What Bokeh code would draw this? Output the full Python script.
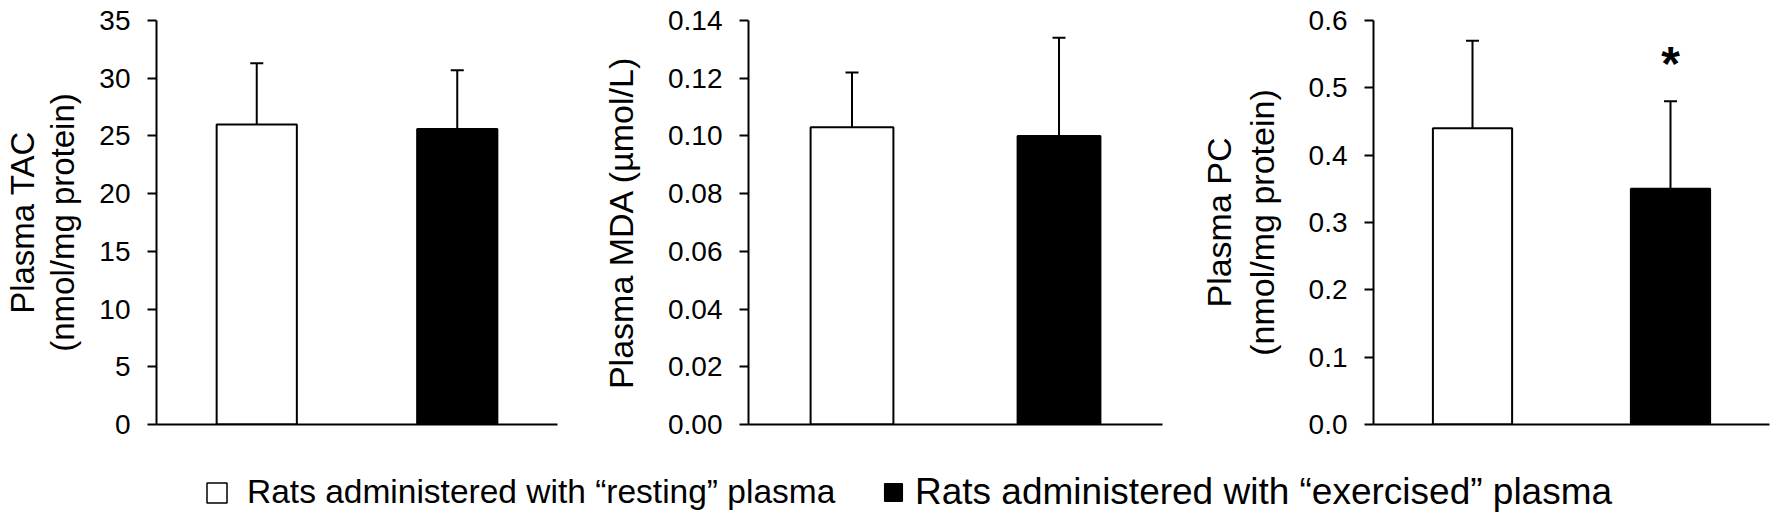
from bokeh.plotting import figure
from bokeh.layouts import column, row
from bokeh.models import (ColumnDataSource, FactorRange, Range1d, FixedTicker,
                          NumeralTickFormatter, Whisker, TeeHead, Legend, LegendItem)
from bokeh.core.properties import value
from bokeh.embed import file_html
from bokeh.resources import INLINE

# ---------------- data ----------------
groups = ["resting", "exercised"]
legend_labels = ["Rats administered with \u201cresting\u201d plasma",
                 "Rats administered with \u201cexercised\u201d plasma"]

tac_mean = [26.0, 25.6]
tac_sd = [5.3, 5.1]
mda_mean = [0.103, 0.100]
mda_sd = [0.019, 0.034]
pc_mean = [0.44, 0.35]
pc_sd = [0.13, 0.13]
pc_sig = ["", "*"]

tac_ticks = [0, 5, 10, 15, 20, 25, 30, 35]
mda_ticks = [0.00, 0.02, 0.04, 0.06, 0.08, 0.10, 0.12, 0.14]
pc_ticks = [0.0, 0.1, 0.2, 0.3, 0.4, 0.5, 0.6]

tac_label = "Plasma TAC\n(nmol/mg protein)"
mda_label = "Plasma MDA (\u00b5mol/L)"
pc_label = "Plasma PC\n(nmol/mg protein)"

# ---------------- style ----------------
FONT = "Liberation Sans"
BAR_FILL = ["white", "black"]


def panel(mean, sd, ticks, fmt, ylabel, width, height, left, right, top, bottom,
          sig=None, label_standoff=20, label_size="34px", label_lh=1.12):
    upper = [m + s for m, s in zip(mean, sd)]
    src = ColumnDataSource(dict(x=groups, mean=mean, upper=upper, fill=BAR_FILL,
                                sig=sig if sig else [""] * len(groups)))
    p = figure(x_range=FactorRange(*groups), y_range=Range1d(ticks[0], ticks[-1]),
               width=width, height=height, min_border_left=left, min_border_right=right,
               min_border_top=top, min_border_bottom=bottom,
               output_backend="svg", toolbar_location=None, tools="")
    p.vbar(x="x", top="mean", bottom=0, width=0.4, source=src, fill_color="fill",
           line_color="black", line_width=2)
    w = Whisker(base="x", upper="upper", lower="mean", source=src, dimension="height",
                line_color="black", line_width=2,
                upper_head=TeeHead(size=13, line_width=2, line_color="black"),
                lower_head=None)
    p.add_layout(w)
    p.text(x="x", y="upper", text="sig", source=src, text_font=value(FONT),
           text_font_style="bold", text_font_size="48px", text_align="center",
           text_baseline="alphabetic", y_offset=-38, text_color="black")

    p.xgrid.visible = False
    p.ygrid.visible = False
    p.outline_line_color = None

    ya = p.yaxis[0]
    ya.ticker = FixedTicker(ticks=ticks)
    ya.formatter = NumeralTickFormatter(format=fmt)
    ya.axis_label = ylabel
    ya.axis_label_text_font = FONT
    ya.axis_label_text_font_size = label_size
    ya.axis_label_text_font_style = "normal"
    ya.axis_label_text_color = "black"
    ya.axis_label_text_line_height = label_lh
    ya.axis_label_standoff = label_standoff
    ya.major_label_text_font = FONT
    ya.major_label_text_font_size = "28px"
    ya.major_label_text_color = "black"
    ya.major_label_standoff = 17
    ya.major_tick_out = 9
    ya.major_tick_in = 0
    ya.major_tick_line_width = 2
    ya.major_tick_line_color = "black"
    ya.minor_tick_line_color = None
    ya.axis_line_width = 2
    ya.axis_line_color = "black"

    xa = p.xaxis[0]
    xa.major_tick_line_color = None
    xa.minor_tick_line_color = None
    xa.major_label_text_color = None
    xa.major_label_text_font_size = "1px"
    xa.major_label_standoff = 0
    xa.axis_line_width = 2
    xa.axis_line_color = "black"
    return p


p1 = panel(tac_mean, tac_sd, tac_ticks, "0", tac_label,
           width=560, height=446, left=152, right=3, top=20, bottom=20,
           label_standoff=15, label_size="33px", label_lh=1.1)
p2 = panel(mda_mean, mda_sd, mda_ticks, "0.00", mda_label,
           width=605, height=446, left=188, right=3, top=17, bottom=22, label_standoff=25)
p3 = panel(pc_mean, pc_sd, pc_ticks, "0.0", pc_label,
           width=608, height=446, left=208, right=4, top=17, bottom=22,
           sig=pc_sig, label_standoff=25)

# ---------------- legend strip ----------------
leg_src = ColumnDataSource(dict(x=groups, mean=tac_mean, fill=BAR_FILL))
lf = figure(width=1773, height=82, x_range=FactorRange(*groups), y_range=Range1d(0, 1),
            x_axis_location=None, y_axis_location=None, min_border=0,
            output_backend="svg", toolbar_location=None, tools="")
lf.xgrid.visible = False
lf.ygrid.visible = False
lf.outline_line_color = None
r_leg = lf.vbar(x="x", top="mean", width=0.4, source=leg_src, fill_color="fill",
                line_color="black", line_width=1.5, visible=False)

common = dict(orientation="horizontal", padding=0, margin=0, border_line_color=None,
              background_fill_alpha=0, inactive_fill_alpha=0,
              label_text_font=FONT, label_text_color="black")
legend1 = Legend(items=[LegendItem(label=legend_labels[0], renderers=[r_leg], index=0)],
                 location=(204, 17), glyph_width=25, glyph_height=25, label_standoff=18,
                 label_text_font_size="33.5px", **common)
legend2 = Legend(items=[LegendItem(label=legend_labels[1], renderers=[r_leg], index=1)],
                 location=(882, 15), glyph_width=22, glyph_height=22, label_standoff=11,
                 label_text_font_size="37px", **common)
lf.add_layout(legend1)
lf.add_layout(legend2)

layout = column(row(p1, p2, p3), lf)
open("out.html", "w").write(file_html(layout, INLINE))
